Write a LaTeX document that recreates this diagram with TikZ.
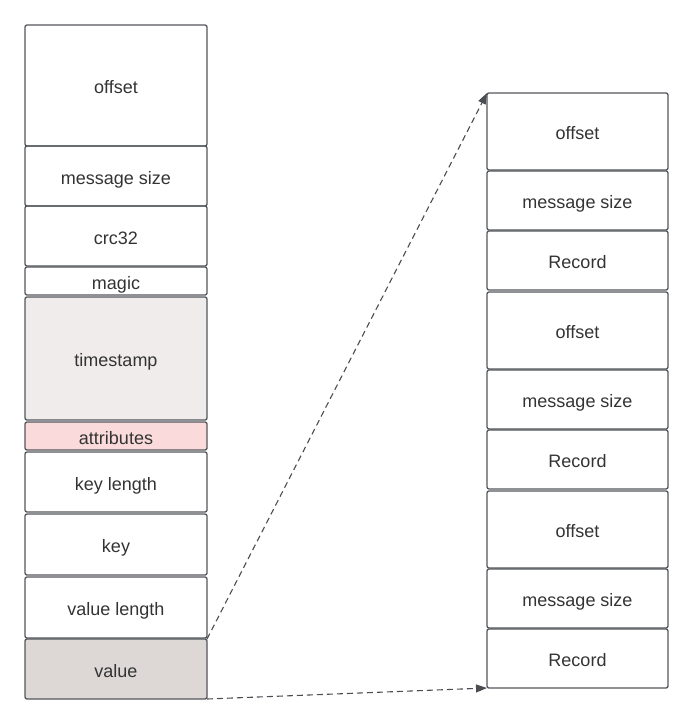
\documentclass[tikz,border=0pt]{standalone}
\usepackage{fontspec}
\setmainfont{Liberation Sans}
\usetikzlibrary{positioning,arrows.meta}
\definecolor{edgegray}{HTML}{53565B}
\definecolor{labelgray}{HTML}{333333}
\definecolor{stampfill}{HTML}{F0ECEC}
\definecolor{attrfill}{HTML}{FADADA}
\definecolor{valuefill}{HTML}{DDD8D6}
\begin{document}
\begin{tikzpicture}[x=1pt,y=-1pt,
    field/.style={draw=edgegray, line width=1.3pt, rounded corners=2pt,
        minimum width=182pt, inner sep=0pt, outer sep=0pt, text=labelgray,
        text height=16pt, text depth=0pt,
        font=\fontsize{18}{20}\selectfont},
    link/.style={draw=edgegray!90!black, line width=1.1pt,
        dash pattern=on 6pt off 4pt,
        -{Triangle[length=11pt,width=8pt]}}]
\useasboundingbox (0,0) rectangle (695,725);
% The message layout, one field under the other
\node[field, minimum height=121pt, anchor=north west] (offset) at (25,25) {offset};
\node[field, minimum height=60pt, below=0pt of offset] (msgsize) {message size};
\node[field, minimum height=60pt, below=0pt of msgsize] (crc) {crc32};
\node[field, minimum height=28pt, below=1pt of crc] (magic) {magic};
\node[field, minimum height=123pt, fill=stampfill, below=2pt of magic] (stamp) {timestamp};
\node[field, minimum height=28pt, fill=attrfill, below=2pt of stamp] (attr) {attributes};
\node[field, minimum height=60pt, below=2pt of attr] (keylen) {key length};
\node[field, minimum height=61pt, below=2pt of keylen] (key) {key};
\node[field, minimum height=61pt, below=2pt of key] (vallen) {value length};
\node[field, minimum height=60pt, fill=valuefill, below=1pt of vallen] (value) {value};
% The value holds a set of inner messages
\foreach \i/\y in {1/93, 2/292, 3/491} {
    \node[field, minimum width=181pt, minimum height=77pt, anchor=north west] (roff\i) at (487,\y) {offset};
    \node[field, minimum width=181pt, minimum height=59pt, below=1pt of roff\i] (rsize\i) {message size};
    \node[field, minimum width=181pt, minimum height=59pt, below=1pt of rsize\i] (rrec\i) {Record};
}
% Dashed arrows from the value to the inner messages
\draw[link] (value.north east) -- (roff1.north west);
\draw[link] (value.south east) -- (rrec3.south west);
\end{tikzpicture}
\end{document}
